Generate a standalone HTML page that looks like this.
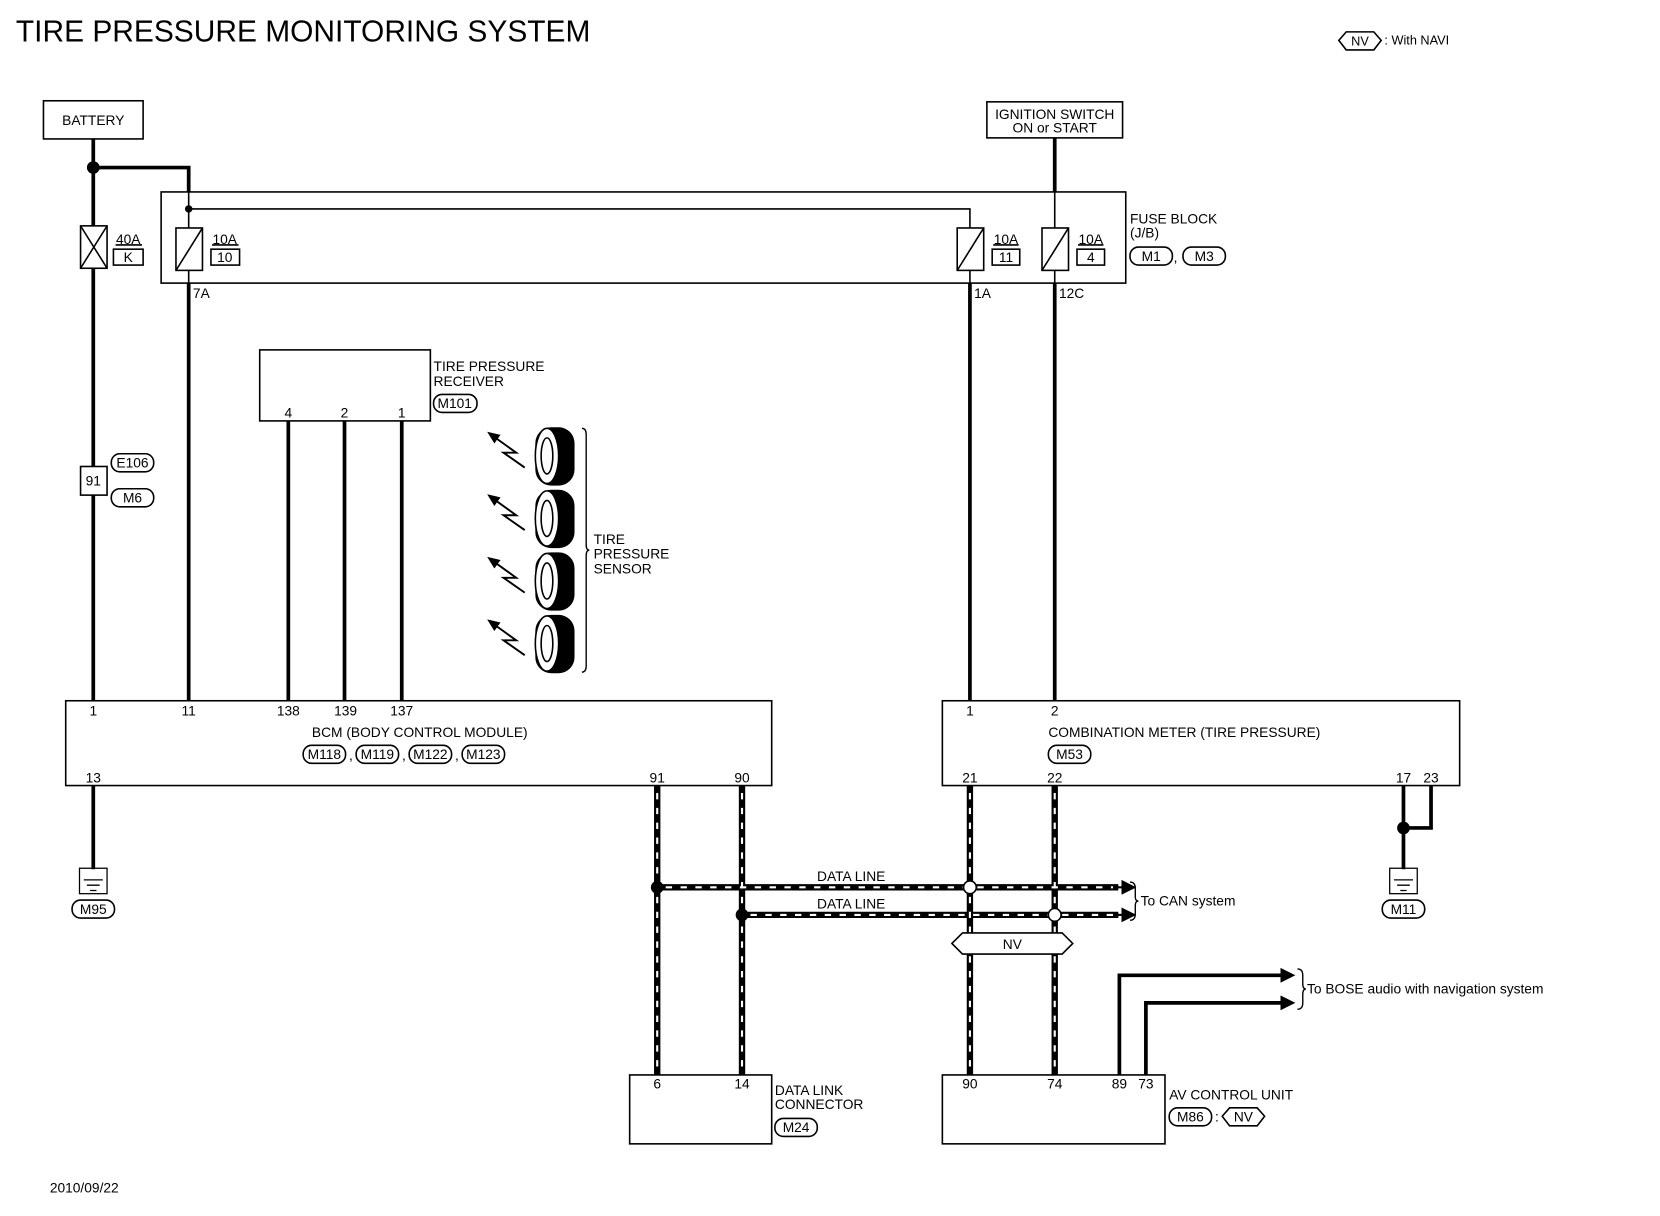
<!DOCTYPE html>
<html><head><meta charset="utf-8"><style>
html,body{margin:0;padding:0;background:#fff;}
svg{display:block;}
text{font-family:"Liberation Sans",sans-serif;font-size:13px;fill:#000;}
</style></head><body>
<svg width="1660" height="1216" viewBox="0 0 1566 1147" xmlns="http://www.w3.org/2000/svg">
<defs>
<marker id="ah" markerWidth="12" markerHeight="10" refX="9" refY="5" orient="auto" markerUnits="userSpaceOnUse"><path d="M0,0 L12,5 L0,10 Z" fill="#000"/></marker>
<marker id="ah2" markerWidth="16" markerHeight="14" refX="2" refY="7" orient="auto" markerUnits="userSpaceOnUse"><path d="M0,0 L14,7 L0,14 Z" fill="#000"/></marker>
</defs>
<rect width="1566" height="1147" fill="#fff"/>
<text x="15" y="39" style="font-size:29px" textLength="542" lengthAdjust="spacingAndGlyphs">TIRE PRESSURE MONITORING SYSTEM</text>
<!-- NV legend -->
<path d="M1263,38 L1270,30 L1296,30 L1303,38 L1296,47 L1270,47 Z" fill="none" stroke="#000" stroke-width="1.5"/>
<text x="1283" y="43" text-anchor="middle" style="font-size:12px">NV</text>
<text x="1306" y="42" style="font-size:12px">: With NAVI</text>

<g fill="none" stroke="#000">
<rect x="41" y="95" width="94" height="36" stroke-width="1.5"/>
<rect x="931" y="96" width="128" height="34" stroke-width="1.5"/>
<rect x="152" y="181" width="910" height="86" stroke-width="1.5"/>
<g stroke-width="3.5">
<path d="M88,131 V213 M88,253 V661"/>
<path d="M88,158 H178 V181"/>
<path d="M995,130 V181"/>
<path d="M178,267 V661 M915,267 V661 M995,267 V661"/>
<path d="M272,397 V661 M325,397 V661 M379,397 V661"/>
<path d="M88,741 V820"/>
<path d="M1324,741 V820 M1350,741 V781 H1324"/>
<path d="M1056,1014 V920 H1210" marker-end="url(#ah2)"/>
<path d="M1081,1014 V946 H1210" marker-end="url(#ah2)"/>
</g>
<g stroke-width="1.5">
<path d="M178,181 V215 M178,255 V267"/>
<path d="M178,197 H915 V215 M915,255 V267"/>
<path d="M995,181 V215 M995,255 V267"/>
</g>
<g stroke-width="1.5">
<rect x="76" y="213" width="25" height="40"/><path d="M76,213 L101,253 M101,213 L76,253"/>
<rect x="166" y="215" width="25" height="40"/><path d="M166,255 L191,215"/>
<rect x="903" y="215" width="25" height="40"/><path d="M903,255 L928,215"/>
<rect x="983" y="215" width="25" height="40"/><path d="M983,255 L1008,215"/>
<rect x="107" y="235" width="28" height="15"/>
<rect x="199" y="235" width="27" height="15"/>
<rect x="936" y="235" width="26" height="15"/>
<rect x="1016" y="235" width="26" height="15"/>
<path d="M109,231 H134 M200,231 H225 M937,231 H961 M1017,231 H1041"/>
</g>
<rect x="76" y="440" width="25" height="27" stroke-width="1.5" fill="#fff"/>
<rect x="245" y="330" width="161" height="67" stroke-width="1.5"/>
<rect x="62" y="661" width="666" height="80" stroke-width="1.5"/>
<rect x="889" y="661" width="488" height="80" stroke-width="1.5"/>
<rect x="594" y="1014" width="134" height="65" stroke-width="1.5"/>
<rect x="889" y="1014" width="210" height="65" stroke-width="1.5"/>
<g stroke-width="1.5">
<rect x="1066" y="233" width="40" height="17" rx="8"/>
<rect x="1116" y="233" width="40" height="17" rx="8"/>
<rect x="409" y="372" width="41" height="17" rx="8"/>
<rect x="105" y="428" width="40" height="17" rx="8"/>
<rect x="105" y="461" width="40" height="17" rx="8"/>
<rect x="286" y="703" width="40" height="17" rx="8"/>
<rect x="336" y="703" width="40" height="17" rx="8"/>
<rect x="386" y="703" width="40" height="17" rx="8"/>
<rect x="436" y="703" width="40" height="17" rx="8"/>
<rect x="989" y="703" width="40" height="17" rx="8"/>
<rect x="68" y="849" width="40" height="17" rx="8"/>
<rect x="1304" y="849" width="40" height="17" rx="8"/>
<rect x="731" y="1055" width="40" height="17" rx="8"/>
<rect x="1103" y="1045" width="40" height="17" rx="8"/>
<path d="M1153,1053 L1160,1045 L1186,1045 L1193,1053 L1186,1062 L1160,1062 Z"/>
</g>
<g stroke-width="1.2">
<rect x="75" y="819" width="26" height="24"/>
<path d="M79,830 H97 M82,835 H94 M85,840 H91"/>
<rect x="1311" y="819" width="26" height="24"/>
<path d="M1315,830 H1333 M1318,835 H1330 M1321,840 H1327"/>
</g>
<g stroke-width="6">
<path d="M620,741 V1014 M700,741 V1014 M915,741 V1014 M995,741 V1014"/>
<path d="M620,837 H1055 M700,863 H1055"/>
</g>
<g stroke="#fff" stroke-width="2" stroke-dasharray="6,8">
<path d="M620,748 V1010 M700,748 V1010 M915,748 V1010 M995,748 V1010"/>
<path d="M628,837 H1050 M708,863 H1050"/>
</g>
<path d="M1052,837 H1060" stroke-width="2" marker-end="url(#ah2)"/>
<path d="M1052,863 H1060" stroke-width="2" marker-end="url(#ah2)"/>
<path d="M898,890 L908,880 L1002,880 L1012,890 L1002,900 L908,900 Z" fill="#fff" stroke-width="1.5"/>
<g stroke-width="1.3">
<path d="M1066,832 Q1071,832 1071,838 V846 Q1071,850 1074,850 Q1071,850 1071,854 V862 Q1071,868 1066,868"/>
<path d="M1224,914 Q1229,914 1229,920 V928 Q1229,933 1232,933 Q1229,933 1229,938 V946 Q1229,952 1224,952"/>
<path d="M549,404 Q553,404 553,410 V514 Q553,519 556,519 Q553,519 553,524 V628 Q553,634 549,634"/>
</g>
</g>
<circle cx="88" cy="158" r="6"/>
<circle cx="178" cy="197" r="3.5"/>
<circle cx="1324" cy="781" r="6"/>
<circle cx="620" cy="837" r="6"/>
<circle cx="700" cy="863" r="6"/>
<circle cx="915" cy="837" r="6" fill="#fff" stroke="#000" stroke-width="1.5"/>
<circle cx="995" cy="863" r="6" fill="#fff" stroke="#000" stroke-width="1.5"/>
<g id="t1">
<rect x="505" y="403" width="37" height="55" rx="15" fill="#000"/>
<ellipse cx="516" cy="430" rx="11" ry="26" fill="#fff" stroke="#000" stroke-width="1.5"/>
<ellipse cx="516" cy="430" rx="5.5" ry="17" fill="#fff" stroke="#000" stroke-width="1.5"/>
<path d="M495,441 L475,427 L487,427 L462,409" fill="none" stroke="#000" stroke-width="1.8" marker-end="url(#ah)"/>
</g>
<use href="#t1" y="59"/>
<use href="#t1" y="118"/>
<use href="#t1" y="177"/>

<text x="88" y="118" text-anchor="middle">BATTERY</text>
<text x="995" y="112" text-anchor="middle">IGNITION SWITCH</text>
<text x="995" y="125" text-anchor="middle">ON or START</text>
<text x="121" y="230" text-anchor="middle">40A</text>
<text x="121" y="247" text-anchor="middle">K</text>
<text x="212" y="230" text-anchor="middle">10A</text>
<text x="212" y="247" text-anchor="middle">10</text>
<text x="949" y="230" text-anchor="middle">10A</text>
<text x="949" y="247" text-anchor="middle">11</text>
<text x="1029" y="230" text-anchor="middle">10A</text>
<text x="1029" y="247" text-anchor="middle">4</text>
<text x="1066" y="211">FUSE BLOCK</text>
<text x="1066" y="224">(J/B)</text>
<text x="1086" y="246" text-anchor="middle">M1</text>
<text x="1109" y="247" text-anchor="middle">,</text>
<text x="1136" y="246" text-anchor="middle">M3</text>
<text x="182" y="281">7A</text>
<text x="919" y="281">1A</text>
<text x="999" y="281">12C</text>
<text x="409" y="350">TIRE PRESSURE</text>
<text x="409" y="364">RECEIVER</text>
<text x="429" y="385" text-anchor="middle">M101</text>
<text x="272" y="394" text-anchor="middle">4</text>
<text x="325" y="394" text-anchor="middle">2</text>
<text x="379" y="394" text-anchor="middle">1</text>
<text x="125" y="441" text-anchor="middle">E106</text>
<text x="88" y="458" text-anchor="middle">91</text>
<text x="125" y="474" text-anchor="middle">M6</text>
<text x="560" y="513">TIRE</text>
<text x="560" y="527">PRESSURE</text>
<text x="560" y="541">SENSOR</text>
<text x="88" y="675" text-anchor="middle">1</text>
<text x="178" y="675" text-anchor="middle">11</text>
<text x="272" y="675" text-anchor="middle">138</text>
<text x="326" y="675" text-anchor="middle">139</text>
<text x="379" y="675" text-anchor="middle">137</text>
<text x="396" y="695" text-anchor="middle">BCM (BODY CONTROL MODULE)</text>
<text x="306" y="716" text-anchor="middle">M118</text>
<text x="331" y="717" text-anchor="middle">,</text>
<text x="356" y="716" text-anchor="middle">M119</text>
<text x="381" y="717" text-anchor="middle">,</text>
<text x="406" y="716" text-anchor="middle">M122</text>
<text x="431" y="717" text-anchor="middle">,</text>
<text x="456" y="716" text-anchor="middle">M123</text>
<text x="88" y="738" text-anchor="middle">13</text>
<text x="620" y="738" text-anchor="middle">91</text>
<text x="700" y="738" text-anchor="middle">90</text>
<text x="915" y="675" text-anchor="middle">1</text>
<text x="995" y="675" text-anchor="middle">2</text>
<text x="989" y="695">COMBINATION METER (TIRE PRESSURE)</text>
<text x="1009" y="716" text-anchor="middle">M53</text>
<text x="915" y="738" text-anchor="middle">21</text>
<text x="995" y="738" text-anchor="middle">22</text>
<text x="1324" y="738" text-anchor="middle">17</text>
<text x="1350" y="738" text-anchor="middle">23</text>
<text x="88" y="862" text-anchor="middle">M95</text>
<text x="1324" y="862" text-anchor="middle">M11</text>
<text x="803" y="831" text-anchor="middle">DATA LINE</text>
<text x="803" y="857" text-anchor="middle">DATA LINE</text>
<text x="1076" y="854">To CAN system</text>
<text x="955" y="895" text-anchor="middle">NV</text>
<text x="1233" y="937">To BOSE audio with navigation system</text>
<text x="620" y="1027" text-anchor="middle">6</text>
<text x="700" y="1027" text-anchor="middle">14</text>
<text x="731" y="1033">DATA LINK</text>
<text x="731" y="1046">CONNECTOR</text>
<text x="751" y="1068" text-anchor="middle">M24</text>
<text x="915" y="1027" text-anchor="middle">90</text>
<text x="995" y="1027" text-anchor="middle">74</text>
<text x="1056" y="1027" text-anchor="middle">89</text>
<text x="1081" y="1027" text-anchor="middle">73</text>
<text x="1103" y="1037">AV CONTROL UNIT</text>
<text x="1123" y="1058" text-anchor="middle">M86</text>
<text x="1148" y="1058" text-anchor="middle">:</text>
<text x="1173" y="1058" text-anchor="middle">NV</text>
<text x="47" y="1125">2010/09/22</text>
</svg>
</body></html>
